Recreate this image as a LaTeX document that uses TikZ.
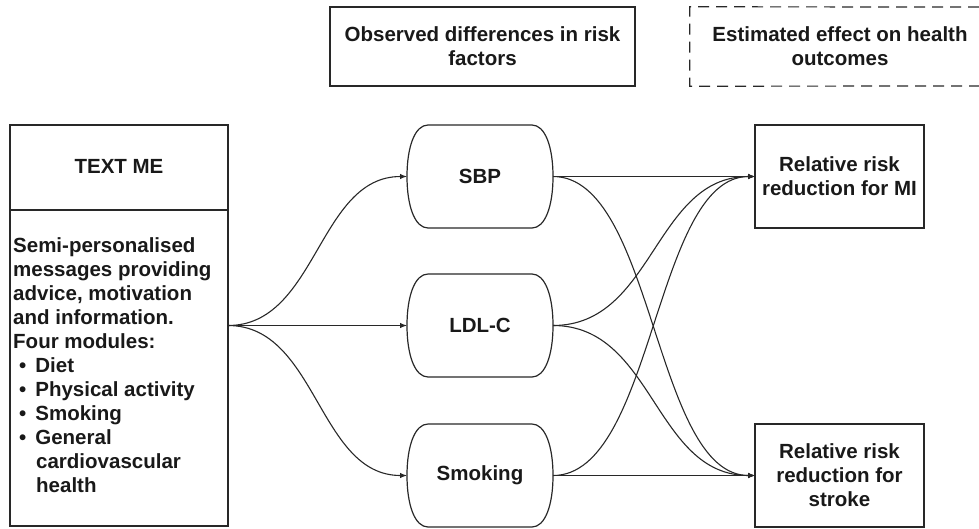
\documentclass[tikz,border=0pt]{standalone}
\usepackage{fontspec}
\setmainfont{Liberation Sans}
\usetikzlibrary{arrows.meta,calc}
\definecolor{linec}{RGB}{40,40,40}
\definecolor{textc}{RGB}{25,25,25}
\newcommand\pillpath[1]{%
  \draw[boxline] ([xshift=21pt]#1.north west) -- ([xshift=-21pt]#1.north east)
   .. controls ([xshift=-8pt]#1.north east) and ([yshift=30pt]#1.east) .. (#1.east)
   .. controls ([yshift=-30pt]#1.east) and ([xshift=-8pt]#1.south east) .. ([xshift=-21pt]#1.south east)
   -- ([xshift=21pt]#1.south west)
   .. controls ([xshift=8pt]#1.south west) and ([yshift=-30pt]#1.west) .. (#1.west)
   .. controls ([yshift=30pt]#1.west) and ([xshift=8pt]#1.north west) .. cycle;}
\tikzset{
  boxline/.style={draw=linec, line width=1.2pt},
  txt/.style={font=\fontsize{20.5}{24}\selectfont\bfseries, text=textc, align=center, inner sep=0pt},
  sqbox/.style={boxline, rectangle, inner sep=0pt, outer sep=0pt},
  pill/.style={rectangle, inner sep=0pt, outer sep=0pt, minimum width=146pt, minimum height=103pt,
    font=\fontsize{20.5}{24}\selectfont\bfseries, text=textc},
  conn/.style={draw=linec, line width=1.1pt, -{Latex[length=7pt,width=5.5pt]}},
}
\begin{document}
\begin{tikzpicture}[x=1pt,y=-1pt]
\useasboundingbox (0,0) rectangle (979,528);
% header boxes
\node[sqbox, minimum width=305pt, minimum height=79pt] (obs) at (482.5,46.5) {};
\node[txt] (obst) at (obs.center) {Observed differences in risk\\factors};
\node[rectangle, inner sep=0pt, minimum width=300pt, minimum height=79pt] (est) at (840,46.5) {};
\node[txt] (estt) at (est.center) {Estimated effect on health\\outcomes};
\draw[boxline, dash pattern=on 11pt off 7pt] (979,7) -- (est.north west) -- (est.south west) -- (979,86);
% left box
\node[sqbox, minimum width=218pt, minimum height=401pt] (tm) at (119,325.5) {};
\draw[boxline] ([yshift=-85pt]tm.north west) -- ([yshift=-85pt]tm.north east);
\node[txt] (tmt) at (119,166.5) {TEXT ME};
\node[txt, align=left, anchor=north west] (tmb) at (13,237.5) {Semi-personalised\\
messages providing\\
advice, motivation\\
and information.\\
Four modules:\\
\hspace*{6pt}\textbullet\hspace*{9pt}Diet\\
\hspace*{6pt}\textbullet\hspace*{9pt}Physical activity\\
\hspace*{6pt}\textbullet\hspace*{9pt}Smoking\\
\hspace*{6pt}\textbullet\hspace*{9pt}General\\
\hspace*{23pt}cardiovascular\\
\hspace*{23pt}health};
% risk factor pills
\node[pill] (sbp) at (480,176.5) {SBP};
\node[pill] (ldl) at (480,325.5) {LDL-C};
\node[pill] (smk) at (480,475.5) {Smoking};
\pillpath{sbp}
\pillpath{ldl}
\pillpath{smk}
% outcome boxes
\node[sqbox, minimum width=169pt, minimum height=103pt] (mi) at (839.5,176.5) {};
\node[txt] (mit) at (mi.center) {Relative risk\\reduction for MI};
\node[sqbox, minimum width=169pt, minimum height=103pt] (st) at (839.5,475.5) {};
\node[txt] (stt) at (st.center) {Relative risk\\reduction for\\stroke};
% connectors left
\draw[conn] (tm.east) to[out=0,in=180,out distance=89pt,in distance=89pt] (sbp.west);
\draw[conn] (tm.east) -- (ldl.west);
\draw[conn] (tm.east) to[out=0,in=180,out distance=89pt,in distance=89pt] (smk.west);
% connectors right
\draw[conn] (sbp.east) -- (mi.west);
\draw[conn] (sbp.east) to[out=0,in=180,out distance=101pt,in distance=101pt] (st.west);
\draw[conn] (ldl.east) to[out=0,in=180,out distance=101pt,in distance=101pt] (mi.west);
\draw[conn] (ldl.east) to[out=0,in=180,out distance=101pt,in distance=101pt] (st.west);
\draw[conn] (smk.east) to[out=0,in=180,out distance=101pt,in distance=101pt] (mi.west);
\draw[conn] (smk.east) -- (st.west);
\end{tikzpicture}
\end{document}
